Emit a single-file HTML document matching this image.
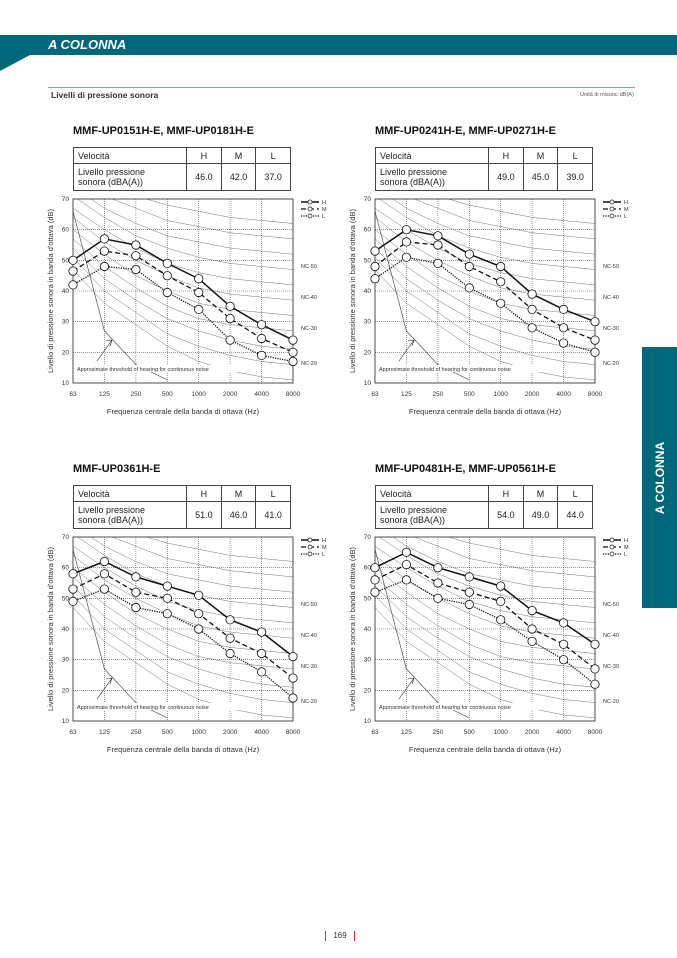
<!DOCTYPE html>
<html><head><meta charset="utf-8">
<style>
body{margin:0;width:677px;height:958px;position:relative;background:#fff;font-family:"Liberation Sans",sans-serif;overflow:hidden}
.band{position:absolute;left:0;top:35px;width:677px;height:20px;background:#00687a}
.band span{position:absolute;left:48px;top:2px;color:#fff;font-weight:bold;font-style:italic;font-size:13px}
.t{position:absolute;font-size:11px;font-weight:bold;color:#111}
table{position:absolute;border-collapse:collapse;font-size:9px;color:#222}
td{border:1px solid #444;padding:1px 4px;text-align:center}
td:first-child{text-align:left}
.tab{position:absolute;left:642px;top:347px;width:35px;height:261px;background:#00687a}
.tab span{position:absolute;left:50%;top:50%;transform:translate(-50%,-50%) rotate(-90deg);color:#fff;font-weight:bold;font-size:12px;white-space:nowrap}
</style></head><body>
<div class="band"><span>A COLONNA</span></div>
<svg style="position:absolute;left:0;top:55px" width="30" height="16"><polygon points="0,0 30,0 0,16" fill="#00687a"/></svg>
<div style="position:absolute;left:48px;top:87px;width:587px;height:1px;background:#7aa7b3"></div>
<div style="position:absolute;left:51px;top:90px;font-size:8.5px;font-weight:bold;color:#333">Livelli di pressione sonora</div>
<div style="position:absolute;left:580px;top:92px;font-size:5.5px;color:#555">Unità di misura: dB(A)</div>
<div class="tab"><span>A COLONNA</span></div>
<div style="position:absolute;left:325px;top:931px;width:28px;text-align:center;font-size:8px;color:#333;border-left:1px solid #c33;border-right:1px solid #c33;line-height:10px">169</div>
<div id="root"></div>
<script>
const NC={15:[47,36,29,22,17,14,12,11],20:[51,40,33,26,22,19,17,16],25:[54,44,37,31,27,24,22,21],30:[57,48,41,35,31,29,28,27],35:[60,52,45,40,36,34,33,32],40:[64,56,50,45,41,39,38,37],45:[67,60,54,49,46,44,43,42],50:[71,64,58,54,51,49,48,47],55:[74,67,62,58,56,54,53,52],60:[77,71,67,63,61,59,58,57],65:[80,75,71,68,66,64,63,62]};
const charts=[
{x:73,y:199,title:"MMF-UP0151H-E, MMF-UP0181H-E",v:["46.0","42.0","37.0"],H:[50,57,55,49,44,35,29,24],M:[46.5,53,51.5,45,39.5,31,24.5,20],L:[42,48,47,39.5,34,24,19,17]},
{x:375,y:199,title:"MMF-UP0241H-E, MMF-UP0271H-E",v:["49.0","45.0","39.0"],H:[53,60,58,52,48,39,34,30],M:[48,56,55,48,43,34,28,24],L:[44,51,49,41,36,28,23,20]},
{x:73,y:537,title:"MMF-UP0361H-E",v:["51.0","46.0","41.0"],H:[58,62,57,54,51,43,39,31],M:[53,58,52,50,45,37,32,24],L:[49,53,47,45,40,32,26,17.5]},
{x:375,y:537,title:"MMF-UP0481H-E, MMF-UP0561H-E",v:["54.0","49.0","44.0"],H:[60,65,60,57,54,46,42,35],M:[56,61,55,52,49,40,35,27],L:[52,56,50,48,43,36,30,22]}];
let h="";
const W=220,Hh=184;
for(const c of charts){
 h+=`<div class="t" style="left:${c.x}px;top:${c.y-74}px">${c.title}</div>`;
 h+=`<table style="left:${c.x}px;top:${c.y-52}px;width:218px"><tr style="height:16px"><td style="width:104px">Velocità</td><td>H</td><td>M</td><td>L</td></tr><tr style="height:27px"><td>Livello pressione<br>sonora (dBA(A))</td><td>${c.v[0]}</td><td>${c.v[1]}</td><td>${c.v[2]}</td></tr></table>`;
 const X=i=>(i*W/7).toFixed(1),Y=v=>((70-v)*Hh/60).toFixed(1);
 let s=`<svg style="position:absolute;left:${c.x-30}px;top:${c.y-8}px;overflow:visible" width="${W+70}" height="${Hh+40}"><g transform="translate(30,8)" font-family="Liberation Sans" font-size="6.5" fill="#333">`;
 s+=`<defs><clipPath id="cp${c.x}${c.y}"><rect width="${W}" height="${Hh}"/></clipPath></defs>`;
 s+=`<g clip-path="url(#cp${c.x}${c.y})" fill="none" stroke="#777" stroke-width="0.5">`;
 for(const k in NC) s+=`<polyline points="${NC[k].map((v,i)=>X(i)+","+Y(v)).join(" ")}"/>`;
 s+=`<polyline stroke="#555" stroke-width="0.7" points="${X(0)},${Y(66)} ${X(1)},${Y(27)} ${X(2)},${Y(16)} ${X(3)},${Y(11)}"/>`;
 s+=`</g>`;
 for(let i=1;i<7;i++) s+=`<line x1="${X(i)}" y1="0" x2="${X(i)}" y2="${Hh}" stroke="#555" stroke-width="0.6" stroke-dasharray="1,1"/>`;
 for(let v=20;v<70;v+=10) s+=`<line x1="0" y1="${Y(v)}" x2="${W}" y2="${Y(v)}" stroke="#555" stroke-width="0.6" stroke-dasharray="1,1"/>`;
 s+=`<rect width="${W}" height="${Hh}" fill="none" stroke="#222" stroke-width="0.8"/>`;
 for(let v=10;v<=70;v+=10) s+=`<text x="-4" y="${+Y(v)+2}" text-anchor="end">${v}</text>`;
 ["63","125","250","500","1000","2000","4000","8000"].forEach((t,i)=>s+=`<text x="${X(i)}" y="${Hh+13}" text-anchor="middle">${t}</text>`);
 s+=`<text x="${W/2}" y="${Hh+31}" text-anchor="middle" font-size="7.5">Frequenza centrale della banda di ottava (Hz)</text>`;
 s+=`<text transform="translate(-20,${Hh/2}) rotate(-90)" text-anchor="middle" font-size="7.5">Livello di pressione sonora in banda d'ottava (dB)</text>`;
 [[50,69],[40,100],[30,131],[20,166]].forEach(([n,y])=>s+=`<text x="${W+8}" y="${y}" font-size="5.5">NC-${n}</text>`);
 s+=`<line x1="24" y1="162" x2="39" y2="141" stroke="#222" stroke-width="0.6"/><polyline points="33,142 39,141 37,147" fill="none" stroke="#222" stroke-width="0.6"/>`;
 s+=`<rect x="3" y="166" width="185" height="7" fill="#fff"/><text x="4" y="172" font-size="5.5">Approximate threshold of hearing for continuous noise</text>`;
 const ser=[["H","",1.5],["M","5,3",1.3],["L","1.2,1.2",1.3]];
 ser.forEach(([k,d,w],j)=>{
  s+=`<polyline fill="none" stroke="#111" stroke-width="${w}" stroke-dasharray="${d}" points="${c[k].map((v,i)=>X(i)+","+Y(v)).join(" ")}"/>`;
  c[k].forEach((v,i)=>s+=`<circle cx="${X(i)}" cy="${Y(v)}" r="4.2" fill="#fff" stroke="#111" stroke-width="0.8"/>`);
  const ly=3+j*7;
  s+=`<line x1="${W+8}" y1="${ly}" x2="${W+26}" y2="${ly}" stroke="#111" stroke-width="${w}" stroke-dasharray="${d}"/><circle cx="${W+17}" cy="${ly}" r="2" fill="#fff" stroke="#111" stroke-width="0.7"/><text x="${W+29}" y="${ly+2}" font-size="5.5">${k}</text>`;
 });
 s+=`</g></svg>`;
 h+=s;
}
document.getElementById("root").innerHTML=h;
</script>
</body></html>
